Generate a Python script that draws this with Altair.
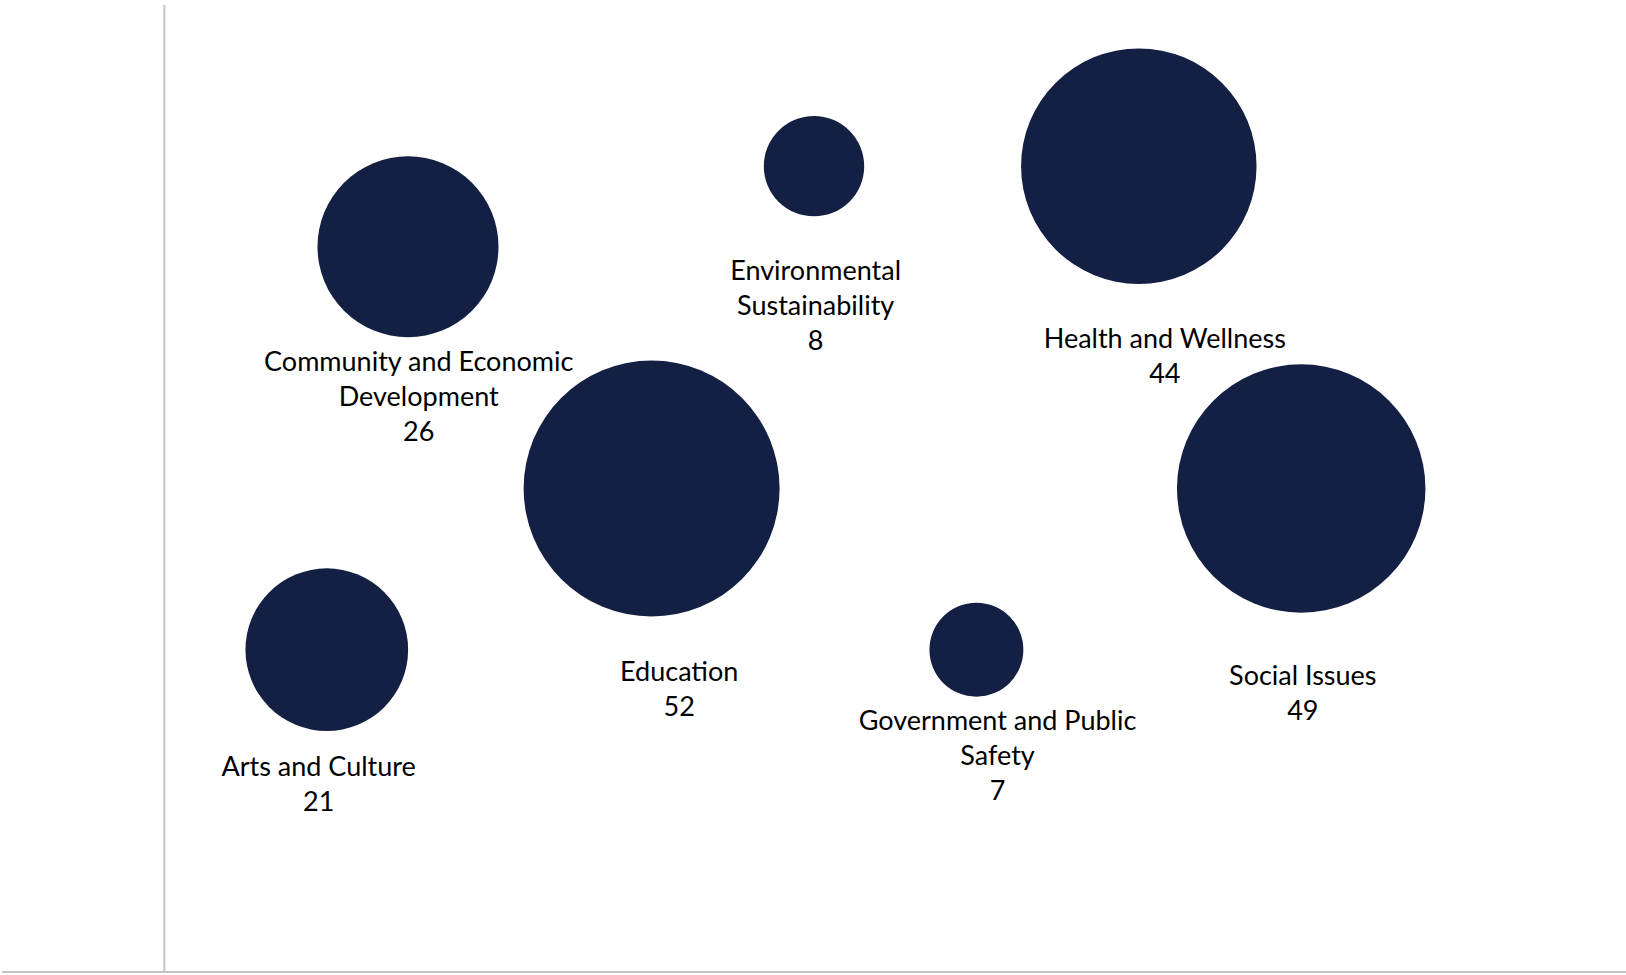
import altair as alt
import pandas as pd

categories = ["Arts and Culture", "Community and Economic\nDevelopment", "Education",
              "Environmental\nSustainability", "Government and Public\nSafety",
              "Health and Wellness", "Social Issues"]
counts = [21, 26, 52, 8, 7, 44, 49]
x_vals = [1, 1.5, 3, 4, 5, 6, 7]
y_vals = [4, 9, 6, 10, 4, 10, 6]
label_x = [0.95, 1.566, 3.17, 4.01, 5.13, 6.16, 7.01]
label_y = [2.535, 7.555, 3.705, 8.685, 3.105, 7.845, 3.655]

df = pd.DataFrame({
    "name": categories, "count": counts, "x": x_vals, "y": y_vals,
    "lx": label_x, "ly": label_y,
})
df["label"] = df["name"] + "\n" + df["count"].astype(str)

xs = alt.Scale(domain=[-1, 9], nice=False, zero=False)
ys = alt.Scale(domain=[0, 12], nice=False, zero=False)

base = alt.Chart(df)

bubbles = base.mark_circle(opacity=1, color="#132043").encode(
    x=alt.X("x:Q", scale=xs, axis=None),
    y=alt.Y("y:Q", scale=ys, axis=None),
    size=alt.Size("count:Q", scale=alt.Scale(domain=[0, 52], range=[0, 52 * 1260], zero=True), legend=None),
)

labels = base.mark_text(font="Lato", fontSize=27, lineBreak="\n", lineHeight=35,
                        align="center", baseline="middle", color="#000000").encode(
    x=alt.X("lx:Q", scale=xs, axis=None),
    y=alt.Y("ly:Q", scale=ys, axis=None),
    text="label:N",
)

axis_df = pd.DataFrame({"x0": [0], "y0": [0]})
yaxis = alt.Chart(axis_df).mark_rule(color="#c4c4c4", strokeWidth=2).encode(
    x=alt.X("x0:Q", scale=xs, axis=None),
)
xaxis = alt.Chart(axis_df).mark_rule(color="#c4c4c4", strokeWidth=2).encode(
    y=alt.Y("y0:Q", scale=ys, axis=None),
)

chart = alt.layer(yaxis, xaxis, bubbles, labels).properties(
    width=1624, height=967,
    autosize=alt.AutoSizeParams(type="none"),
    padding={"left": 2, "top": 5, "right": 0, "bottom": 3},
    background="white",
).configure_view(stroke=None)

chart.save("out.html", embed_options={"renderer": "svg", "actions": False})
